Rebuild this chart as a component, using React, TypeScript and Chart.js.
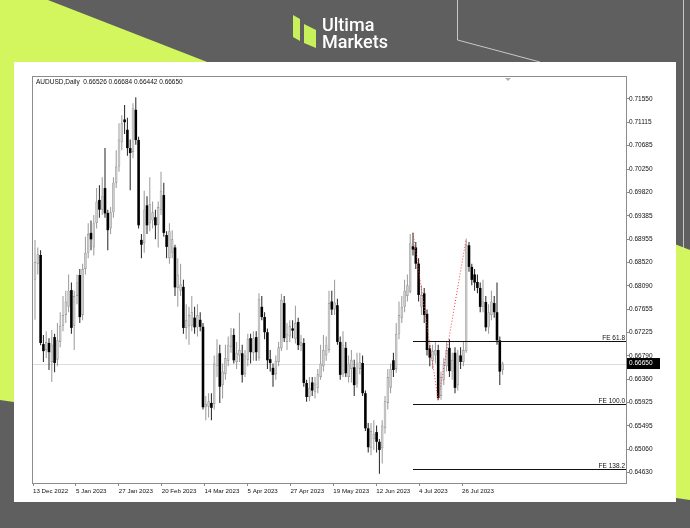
import React, { useEffect, useRef } from 'react';
import { Chart, registerables } from 'chart.js';

Chart.register(...registerables);

// ---- Data (daily AUDUSD candles) ----
const OPEN = [
  0.6820, 0.6850, 0.6866, 0.6701, 0.6690, 0.6703, 0.6668, 0.6714, 0.6672, 0.6705,
  0.6735, 0.6755, 0.6770, 0.6801, 0.6735, 0.6790, 0.6829, 0.6755, 0.6840, 0.6870,
  0.6907, 0.6880, 0.6925, 0.6968, 0.6950, 0.6990, 0.6944, 0.6915, 0.6945, 0.7000,
  0.7030, 0.7075, 0.7117, 0.7098, 0.7064, 0.7057, 0.7135, 0.7079, 0.6894, 0.6888,
  0.6958, 0.6925, 0.6930, 0.6936, 0.6922, 0.6950, 0.6977, 0.6903, 0.6860, 0.6870,
  0.6880, 0.6805, 0.6800, 0.6807, 0.6731, 0.6735, 0.6735, 0.6750, 0.6732, 0.6746,
  0.6733, 0.6584, 0.6585, 0.6592, 0.6590, 0.6660, 0.6684, 0.6625, 0.6645, 0.6670,
  0.6695, 0.6718, 0.6668, 0.6680, 0.6684, 0.6645, 0.6672, 0.6712, 0.6685, 0.6714,
  0.6675, 0.6770, 0.6751, 0.6723, 0.6673, 0.6657, 0.6645, 0.6668, 0.6693, 0.6777,
  0.6705, 0.6715, 0.6730, 0.6710, 0.6742, 0.6698, 0.6703, 0.6629, 0.6603, 0.6630,
  0.6612, 0.6620, 0.6640, 0.6660, 0.6680, 0.6690, 0.6780, 0.6765, 0.6773, 0.6705,
  0.6645, 0.6694, 0.6640, 0.6655, 0.6658, 0.6628, 0.6655, 0.6666, 0.6610, 0.6545,
  0.6508, 0.6525, 0.6538, 0.6520, 0.6508, 0.6545, 0.6592, 0.6620, 0.6671, 0.6655,
  0.6720, 0.6750, 0.6770, 0.6790, 0.6798, 0.6882, 0.6880, 0.6850, 0.6770, 0.6795,
  0.6757, 0.6693, 0.6670, 0.6680, 0.6690, 0.6605, 0.6635, 0.6660, 0.6694, 0.6650,
  0.6685, 0.6625, 0.6680, 0.6668, 0.6688, 0.6884, 0.6844, 0.6830, 0.6816, 0.6805,
  0.6770, 0.6779, 0.6732, 0.6755, 0.6777, 0.6760, 0.6708, 0.66526,
];
const HIGH = [
  0.6894, 0.6880, 0.6875, 0.6718, 0.6725, 0.6712, 0.6727, 0.6720, 0.6740, 0.6760,
  0.6790, 0.6800, 0.6830, 0.6815, 0.6800, 0.6830, 0.6840, 0.6850, 0.6900, 0.6925,
  0.6930, 0.6940, 0.6990, 0.6995, 0.7010, 0.7064, 0.6950, 0.6955, 0.7010, 0.7060,
  0.7110, 0.7125, 0.7144, 0.7120, 0.7080, 0.7147, 0.7158, 0.7085, 0.6905, 0.6985,
  0.6975, 0.7010, 0.6965, 0.6950, 0.6965, 0.7020, 0.7000, 0.6910, 0.6925, 0.6912,
  0.6885, 0.6860, 0.6850, 0.6820, 0.6775, 0.6770, 0.6790, 0.6770, 0.6775, 0.6760,
  0.6740, 0.6605, 0.6610, 0.6610, 0.6680, 0.6710, 0.6700, 0.6665, 0.6700, 0.6715,
  0.6731, 0.6730, 0.6705, 0.6759, 0.6700, 0.6690, 0.6720, 0.6720, 0.6725, 0.6725,
  0.6795, 0.6790, 0.6760, 0.6730, 0.6690, 0.6665, 0.6680, 0.6705, 0.6794, 0.6790,
  0.6740, 0.6745, 0.6745, 0.6772, 0.6750, 0.6718, 0.6712, 0.6635, 0.6640, 0.6640,
  0.6640, 0.6655, 0.6700, 0.6718, 0.6715, 0.6800, 0.6800, 0.6820, 0.6785, 0.6715,
  0.6725, 0.6705, 0.6680, 0.6690, 0.6672, 0.6685, 0.6685, 0.6680, 0.6615, 0.6555,
  0.6555, 0.6560, 0.6550, 0.6525, 0.6560, 0.6605, 0.6655, 0.6665, 0.6685, 0.6740,
  0.6780, 0.6790, 0.6820, 0.6830, 0.6905, 0.6907, 0.6890, 0.6860, 0.6810, 0.6805,
  0.6765, 0.6700, 0.6700, 0.6705, 0.6700, 0.6650, 0.6675, 0.6705, 0.6710, 0.6685,
  0.6695, 0.6690, 0.6695, 0.6705, 0.6896, 0.6890, 0.6850, 0.6840, 0.6830, 0.6815,
  0.6820, 0.6790, 0.6775, 0.6800, 0.6790, 0.6815, 0.6715, 0.66684,
];
const LOW = [
  0.6746, 0.6830, 0.6699, 0.6668, 0.6675, 0.6653, 0.6631, 0.6649, 0.6660, 0.6695,
  0.6725, 0.6740, 0.6760, 0.6720, 0.6690, 0.6775, 0.6740, 0.6745, 0.6830, 0.6860,
  0.6875, 0.6865, 0.6915, 0.6935, 0.6940, 0.6935, 0.6875, 0.6905, 0.6935, 0.6990,
  0.7020, 0.7060, 0.7090, 0.7050, 0.6986, 0.7045, 0.7070, 0.6915, 0.6860, 0.6870,
  0.6905, 0.6910, 0.6915, 0.6895, 0.6880, 0.6940, 0.6900, 0.6860, 0.6850, 0.6860,
  0.6790, 0.6770, 0.6790, 0.6720, 0.6710, 0.6700, 0.6725, 0.6720, 0.6715, 0.6725,
  0.6580, 0.6560, 0.6565, 0.6560, 0.6580, 0.6640, 0.6592, 0.6600, 0.6635, 0.6660,
  0.6685, 0.6665, 0.6655, 0.6668, 0.6630, 0.6640, 0.6660, 0.6665, 0.6670, 0.6670,
  0.6670, 0.6745, 0.6710, 0.6655, 0.6650, 0.6622, 0.6635, 0.6660, 0.6688, 0.6705,
  0.6690, 0.6705, 0.6712, 0.6702, 0.6690, 0.6688, 0.6622, 0.6594, 0.6595, 0.6605,
  0.6600, 0.6610, 0.6635, 0.6650, 0.6670, 0.6685, 0.6755, 0.6755, 0.6700, 0.6635,
  0.6640, 0.6640, 0.6630, 0.6630, 0.6605, 0.6620, 0.6645, 0.6605, 0.6540, 0.6500,
  0.6495, 0.6505, 0.6500, 0.6461, 0.6480, 0.6535, 0.6580, 0.6610, 0.6640, 0.6648,
  0.6710, 0.6740, 0.6760, 0.6780, 0.6795, 0.6865, 0.6840, 0.6780, 0.6755, 0.6740,
  0.6680, 0.6660, 0.6655, 0.6665, 0.6597, 0.6598, 0.6625, 0.6650, 0.6640, 0.6635,
  0.6610, 0.6615, 0.6655, 0.6660, 0.6685, 0.6835, 0.6810, 0.6800, 0.6795, 0.6760,
  0.6760, 0.6725, 0.6720, 0.6745, 0.6750, 0.6700, 0.6625, 0.66442,
];
const CLOSE = [
  0.6853, 0.6868, 0.6703, 0.6688, 0.6705, 0.6686, 0.6700, 0.6666, 0.6708, 0.6735,
  0.6755, 0.6780, 0.6800, 0.6731, 0.6790, 0.6815, 0.6751, 0.6840, 0.6870, 0.6905,
  0.6895, 0.6925, 0.6965, 0.6950, 0.6975, 0.6943, 0.6912, 0.6945, 0.7000, 0.7030,
  0.7080, 0.7110, 0.7112, 0.7064, 0.7055, 0.7138, 0.7079, 0.6921, 0.6885, 0.6950,
  0.6921, 0.6960, 0.6945, 0.6921, 0.6955, 0.6985, 0.6907, 0.6881, 0.6910, 0.6895,
  0.6806, 0.6830, 0.6812, 0.6731, 0.6745, 0.6755, 0.6760, 0.6732, 0.6755, 0.6733,
  0.6584, 0.6590, 0.6595, 0.6583, 0.6665, 0.6680, 0.6622, 0.6650, 0.6675, 0.6700,
  0.6717, 0.6671, 0.6685, 0.6690, 0.6644, 0.6680, 0.6710, 0.6686, 0.6712, 0.6686,
  0.6785, 0.6751, 0.6723, 0.6671, 0.6666, 0.6644, 0.6670, 0.6695, 0.6783, 0.6712,
  0.6720, 0.6735, 0.6726, 0.6740, 0.6699, 0.6705, 0.6629, 0.6603, 0.6620, 0.6615,
  0.6628, 0.6645, 0.6665, 0.6690, 0.6700, 0.6777, 0.6765, 0.6778, 0.6705, 0.6644,
  0.6700, 0.6647, 0.6665, 0.6672, 0.6625, 0.6665, 0.6668, 0.6610, 0.6545, 0.6510,
  0.6540, 0.6535, 0.6520, 0.6505, 0.6550, 0.6595, 0.6640, 0.6655, 0.6653, 0.6720,
  0.6755, 0.6770, 0.6800, 0.6810, 0.6888, 0.6876, 0.6850, 0.6792, 0.6792, 0.6755,
  0.6690, 0.6676, 0.6688, 0.6690, 0.6601, 0.6640, 0.6665, 0.6690, 0.6651, 0.6672,
  0.6620, 0.6680, 0.6668, 0.6690, 0.6885, 0.6844, 0.6820, 0.6815, 0.6805, 0.6770,
  0.6780, 0.6732, 0.6760, 0.6780, 0.6760, 0.6708, 0.6650, 0.66650,
];

const DATE_LABELS = [
  '13 Dec 2022', '5 Jan 2023', '27 Jan 2023', '20 Feb 2023', '14 Mar 2023', '5 Apr 2023',
  '27 Apr 2023', '19 May 2023', '12 Jun 2023', '4 Jul 2023', '26 Jul 2023',
];
// bar-index positions of the date labels
const DATE_POS = [-0.71, 14.61, 29.93, 45.25, 60.57, 75.89, 91.21, 106.54, 121.86, 137.18, 152.5];

const PRICE_TICKS = [
  0.71550, 0.71115, 0.70685, 0.70250, 0.69820, 0.69385, 0.68955, 0.68520, 0.68090,
  0.67655, 0.67225, 0.66790, 0.66360, 0.65925, 0.65495, 0.65060, 0.64630,
];

const FE_LABELS = ['FE 61.8', 'FE 100.0', 'FE 138.2'];
const FE_LEVELS = [0.67066, 0.65899, 0.64702];
const FE_START = 135;

const SWING_X = [135, 144, 154];
const SWING_Y = [0.6907, 0.6597, 0.6896];

const LAST_PRICE = 0.66650;
const HEADER = 'AUDUSD,Daily  0.66526 0.66684 0.66442 0.66650';

const X_MIN = -0.714;
const X_MAX = 211.07;
const Y_MIN = 0.64437;
const Y_MAX = 0.71957;

const FONT = '"Liberation Sans", Arial, sans-serif';
const TEXT = '#111111';

const backgroundPlugin = {
  id: 'bgDecor',
  beforeDraw(chart: any) {
    const ctx = chart.ctx;
    ctx.save();
    ctx.fillStyle = '#5f5f5f';
    ctx.fillRect(0, 0, 690, 528);
    // lime wedge
    ctx.fillStyle = '#d3f65e';
    ctx.beginPath();
    ctx.moveTo(0, 0);
    ctx.lineTo(48, 0);
    ctx.lineTo(690, 250);
    ctx.lineTo(690, 500);
    ctx.lineTo(0, 400);
    ctx.closePath();
    ctx.fill();
    // thin outline decoration
    ctx.strokeStyle = 'rgba(225,225,225,0.8)';
    ctx.lineWidth = 1;
    ctx.beginPath();
    ctx.moveTo(457.5, 0);
    ctx.lineTo(457.5, 40);
    ctx.lineTo(540, 62);
    ctx.stroke();
    ctx.beginPath();
    ctx.moveTo(683.5, 0);
    ctx.lineTo(683.5, 250);
    ctx.stroke();
    // logo icon
    ctx.fillStyle = '#c8f05a';
    ctx.beginPath();
    ctx.moveTo(293, 15);
    ctx.lineTo(300, 19);
    ctx.lineTo(300, 41);
    ctx.lineTo(293, 37);
    ctx.closePath();
    ctx.fill();
    ctx.beginPath();
    ctx.moveTo(304, 24);
    ctx.lineTo(316, 30);
    ctx.lineTo(316, 48);
    ctx.lineTo(304, 43);
    ctx.closePath();
    ctx.fill();
    // logo text
    ctx.fillStyle = '#ffffff';
    ctx.font = '500 18px Roboto, "Liberation Sans", sans-serif';
    ctx.textBaseline = 'alphabetic';
    ctx.textAlign = 'left';
    ctx.fillText('Ultima', 322, 31);
    ctx.fillText('Markets', 322, 48);
    // white panel
    ctx.fillStyle = '#ffffff';
    ctx.fillRect(14, 62, 662, 440);
    ctx.restore();
  },
  beforeDatasetsDraw(chart: any) {
    const { ctx, chartArea, scales } = chart;
    const y = Math.round(scales.y.getPixelForValue(LAST_PRICE)) + 0.5;
    ctx.save();
    ctx.strokeStyle = '#dcdcdc';
    ctx.lineWidth = 1;
    ctx.beginPath();
    ctx.moveTo(chartArea.left, y);
    ctx.lineTo(chartArea.right, y);
    ctx.stroke();
    ctx.restore();
  },
  afterDraw(chart: any) {
    const { ctx, chartArea, scales } = chart;
    const { left, right, top, bottom } = chartArea;
    ctx.save();
    // FE levels
    const xs = scales.x.getPixelForValue(FE_START);
    ctx.font = `6.5px ${FONT}`;
    ctx.textAlign = 'right';
    ctx.textBaseline = 'alphabetic';
    FE_LEVELS.forEach((lv, i) => {
      const y = Math.round(scales.y.getPixelForValue(lv)) + 0.5;
      ctx.strokeStyle = '#111';
      ctx.lineWidth = 1;
      ctx.beginPath();
      ctx.moveTo(xs, y);
      ctx.lineTo(right, y);
      ctx.stroke();
      ctx.fillStyle = TEXT;
      ctx.fillText(FE_LABELS[i], right - 1, y - 2);
    });
    // frame
    ctx.strokeStyle = '#8c8c8c';
    ctx.lineWidth = 1;
    ctx.strokeRect(Math.round(left) - 0.5, Math.round(top) - 0.5, Math.round(right - left) + 1, Math.round(bottom - top) + 1);
    // header
    ctx.fillStyle = TEXT;
    ctx.textAlign = 'left';
    ctx.textBaseline = 'middle';
    ctx.font = `6.5px ${FONT}`;
    ctx.fillText(HEADER, left + 3, top + 5.5);
    // chart shift marker
    ctx.fillStyle = '#b0b0b0';
    ctx.beginPath();
    ctx.moveTo(505, top + 1);
    ctx.lineTo(511, top + 1);
    ctx.lineTo(508, top + 4);
    ctx.closePath();
    ctx.fill();
    // last price box
    const py = scales.y.getPixelForValue(LAST_PRICE);
    ctx.fillStyle = '#000';
    ctx.fillRect(right + 1, py - 5.5, 33, 11);
    ctx.fillStyle = '#fff';
    ctx.textBaseline = 'middle';
    ctx.fillText(LAST_PRICE.toFixed(5), right + 3, py);
    ctx.restore();
  },
};

export default function App() {
  const ref = useRef<HTMLCanvasElement | null>(null);

  useEffect(() => {
    if (!ref.current) return;
    const up = CLOSE.map((c, i) => c >= OPEN[i]);
    const wicks = OPEN.map((_, i) => ({ x: i, y: [LOW[i], HIGH[i]] }));
    const bodies = OPEN.map((o, i) => ({ x: i, y: [o, CLOSE[i]] }));
    const swing = SWING_X.map((x, i) => ({ x, y: SWING_Y[i] }));

    const chart = new Chart(ref.current, {
      type: 'bar',
      data: {
        datasets: [
          {
            type: 'line',
            data: swing as any,
            borderColor: '#ff3b3b',
            borderWidth: 1,
            borderDash: [1, 2],
            pointRadius: 0,
            fill: false,
            tension: 0,
            order: 0,
          } as any,
          {
            data: bodies as any,
            backgroundColor: up.map((u) => (u ? '#cccccc' : '#000000')),
            borderColor: up.map((u) => (u ? '#8e8e8e' : '#000000')),
            borderWidth: up.map((u) => (u ? 0.7 : 0)),
            borderSkipped: false,
            barThickness: 2.6,
            minBarLength: 1,
            grouped: false,
            inflateAmount: 0,
            order: 1,
          } as any,
          {
            data: wicks as any,
            backgroundColor: up.map((u) => (u ? '#999999' : '#222222')),
            borderWidth: 0,
            barThickness: 1,
            grouped: false,
            inflateAmount: 0,
            order: 2,
          } as any,
        ],
      },
      options: {
        responsive: false,
        animation: false,
        devicePixelRatio: 1,
        events: [],
        layout: { padding: { left: 33, top: 77, right: 24, bottom: 28 } },
        plugins: { legend: { display: false }, tooltip: { enabled: false } },
        scales: {
          x: {
            type: 'linear',
            min: X_MIN,
            max: X_MAX,
            offset: false,
            bounds: 'data',
            afterBuildTicks: (ax: any) => {
              ax.ticks = DATE_POS.map((v) => ({ value: v }));
            },
            afterFit: (ax: any) => {
              ax.height = 17;
            },
            ticks: {
              autoSkip: false,
              maxRotation: 0,
              minRotation: 0,
              align: 'start',
              padding: 1.5,
              color: TEXT,
              font: { family: FONT, size: 6.2 },
              callback: (_v: any, i: number) => DATE_LABELS[i],
            },
            grid: { drawOnChartArea: false, drawTicks: true, tickLength: 3, color: '#8c8c8c', offset: false },
            border: { display: false },
          } as any,
          y: {
            type: 'linear',
            position: 'right',
            min: Y_MIN,
            max: Y_MAX,
            bounds: 'data',
            beginAtZero: false,
            afterBuildTicks: (ax: any) => {
              ax.ticks = PRICE_TICKS.map((v) => ({ value: v }));
            },
            afterFit: (ax: any) => {
              ax.width = 40;
            },
            ticks: {
              autoSkip: false,
              padding: 0,
              color: TEXT,
              font: { family: FONT, size: 6.5 },
              callback: (v: any) => Number(v).toFixed(5),
            },
            grid: { drawOnChartArea: false, drawTicks: true, tickLength: 3, color: '#8c8c8c' },
            border: { display: false },
          } as any,
        },
      },
      plugins: [backgroundPlugin],
    });
    return () => chart.destroy();
  }, []);

  return (
    <div style={{ position: 'absolute', left: 0, top: 0, width: 690, height: 528 }}>
      <canvas ref={ref} width={690} height={528} style={{ display: 'block', width: 690, height: 528 }} />
    </div>
  );
}
